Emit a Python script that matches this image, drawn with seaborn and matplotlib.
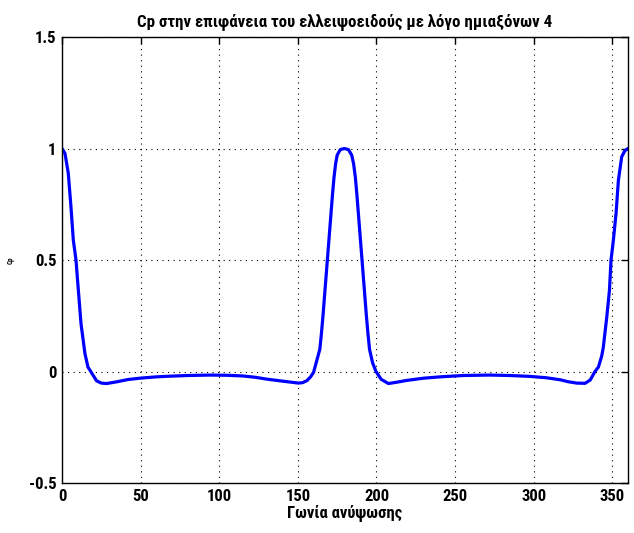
import matplotlib
matplotlib.use("Agg")
import matplotlib.pyplot as plt
import seaborn as sns
import pandas as pd
from matplotlib import font_manager

angle = [0, 1.9, 4.0, 5.7, 7.2, 8.9, 10.4, 12.1, 14.6, 16.5, 18.3, 22, 25, 28.4, 35, 42,
         49.6, 60, 68.7, 80, 94, 105, 115, 123, 130, 140, 147, 150.3, 153, 155.6, 158,
         160, 162, 164, 165, 166, 167, 168, 169, 170, 171, 172, 173, 174, 175, 177, 179.6,
         182.2, 184.3, 185.5, 186.6, 187.6, 188.6, 189.6, 190.6, 191.6, 192.6, 193.6, 194.6,
         195.6, 197.5, 199.7, 203, 207.6, 213, 219.3, 230, 240.5, 255, 272, 285, 297.7,
         308, 316.8, 322, 327.4, 332.7, 336, 339, 341.2, 343.3, 344.3, 346.5, 348.2,
         349.2, 350.7, 352.4, 353.9, 356, 358, 360]
cp = [1.0, 0.978, 0.889, 0.738, 0.589, 0.5, 0.364, 0.214, 0.08, 0.02, 0.0, -0.042, -0.052,
      -0.054, -0.046, -0.036, -0.03, -0.024, -0.021, -0.018, -0.016, -0.017, -0.02, -0.026,
      -0.034, -0.043, -0.049, -0.052, -0.05, -0.042, -0.025, -0.004, 0.048, 0.10, 0.17,
      0.25, 0.34, 0.43, 0.52, 0.61, 0.70, 0.79, 0.87, 0.93, 0.97, 0.995, 1.0,
      0.995, 0.97, 0.93, 0.87, 0.79, 0.70, 0.61, 0.52, 0.43, 0.34, 0.25, 0.17, 0.10,
      0.04, 0.0, -0.035, -0.054, -0.048, -0.04, -0.03, -0.024, -0.018, -0.016, -0.018,
      -0.022, -0.028, -0.037, -0.046, -0.052, -0.053, -0.038, 0.0, 0.02, 0.07, 0.109,
      0.244, 0.364, 0.5, 0.589, 0.709, 0.858, 0.963, 0.99, 1.0]

xticks = [0, 50, 100, 150, 200, 250, 300, 350]
yticks = [-0.5, 0, 0.5, 1, 1.5]
ytick_labels = ["-0.5", "0", "0.5", "1", "1.5"]
title = "Cp στην επιφάνεια του ελλειψοειδούς με λόγο ημιαξόνων 4"
xlabel = "Γωνία ανύψωσης"
ylabel = "Cp"

sns.set_style("white")
names = {f.name for f in font_manager.fontManager.ttflist}
fam = [n for n in ["Liberation Sans Narrow", "DejaVu Sans Condensed", "Roboto Condensed"]
       if n in names] + ["DejaVu Sans"]
plt.rcParams["font.family"] = fam
plt.rcParams["font.stretch"] = "condensed"
plt.rcParams["text.color"] = "black"
plt.rcParams["axes.labelcolor"] = "black"

df = pd.DataFrame({"angle": angle, "cp": cp})
fig = plt.figure(figsize=(6.34, 5.33), dpi=100)
ax = fig.add_axes([62 / 634, 1 - 483 / 533, 566 / 634, 446 / 533])
sns.lineplot(data=df, x="angle", y="cp", ax=ax, color=(0, 0, 1), linewidth=2.3,
             sort=False, estimator=None)
ax.set_xlim(0, 360)
ax.set_ylim(-0.5, 1.5)
ax.set_xticks(xticks)
ax.set_yticks(yticks)
ax.set_yticklabels(ytick_labels)
ax.grid(True, color="black", linestyle=(0, (1, 4)), linewidth=0.8)
ax.tick_params(direction="in", length=5, width=1, top=True, right=True,
               labelsize=12, pad=4, colors="black")
for lab in ax.get_xticklabels() + ax.get_yticklabels():
    lab.set_fontweight("bold")
for s in ax.spines.values():
    s.set_visible(True)
    s.set_color("black")
    s.set_linewidth(1.0)
ax.set_title(title, fontsize=12.2, fontweight="bold", pad=7, color="black")
ax.set_xlabel(xlabel, fontsize=12, fontweight="bold", labelpad=1, color="black")
ax.set_ylabel(ylabel, fontsize=5, fontweight="bold", color="black")
ax.yaxis.set_label_coords(-(62 - 15) / 566, 0.5)
fig.savefig("out.png", dpi=100)
